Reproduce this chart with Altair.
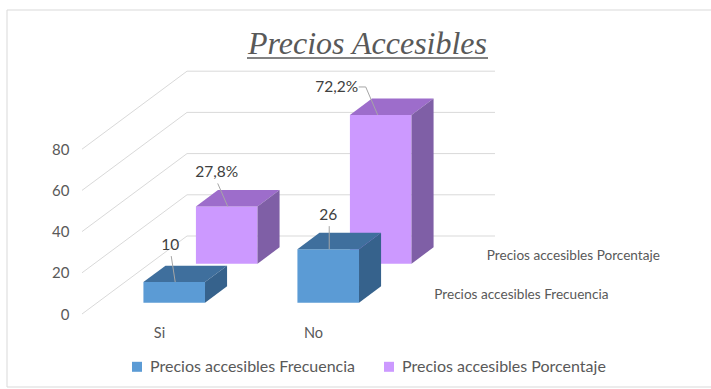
import json
import altair as alt
import pandas as pd

# ---------------- data ----------------
categories = ["Si", "No"]
series = ["Precios accesibles Frecuencia", "Precios accesibles Porcentaje"]
frecuencia = [10, 26]
porcentaje = [27.8, 72.2]
y_ticks = [0, 20, 40, 60, 80]
title_text = "Precios Accesibles"

values = {series[0]: frecuencia, series[1]: porcentaje}

# ---------------- layout / style constants ----------------
PX_U = 154.0            # px per category unit
PX_V = 2.06             # px per value unit
DEPTH_DX = 105 / PX_U   # 3D depth shift (x, category units) at back wall
DEPTH_DY = 78 / PX_V    # 3D depth shift (y, value units) at back wall
HALF_W = 0.2
ROW_DEPTH = {series[0]: (0.145, 0.355), series[1]: (0.645, 0.855)}
X_MIN, X_MAX = -0.5, 3.5
Y_MIN, Y_MAX = 0, 120
PLOT_W = (X_MAX - X_MIN) * PX_U
PLOT_H = (Y_MAX - Y_MIN) * PX_V
PAD_L = 82
PAD_T = 314 - PLOT_H
PAD_R = 711 - PAD_L - PLOT_W
PAD_B = 389 - 314

FRONT = {series[0]: "#5B9BD5", series[1]: "#CC99FF"}
TOP = {series[0]: "#3F6F9D", series[1]: "#9D6DCB"}
SIDE = {series[0]: "#36628C", series[1]: "#7F5FA6"}
GRID = "#D9D9D9"
TXT = "#595959"
FONT = "Lato"

# manual label nudges (px) as in the original Excel chart
LABEL_NUDGE = {(0, 0): (-4, -37), (1, 0): (-10, -34), (0, 1): (0, -34), (1, 1): (-44, -28)}


def proj(u, v, d):
    return u + DEPTH_DX * d, v + DEPTH_DY * d


def fmt(s, v):
    if s == series[1]:
        return f"{v:.1f}".replace(".", ",") + "%"
    return f"{v:g}"


# ---------------- build geometry tables ----------------
front_rows, face_rows, label_rows, leader_rows = [], [], [], []
for si, s in enumerate(series):
    d0, d1 = ROW_DEPTH[s]
    for ci, cat in enumerate(categories):
        h = values[s][ci]
        xa, yb0 = proj(ci - HALF_W, 0, d0)
        xc, yt0 = proj(ci + HALF_W, h, d0)
        xb, yt1 = proj(ci - HALF_W, h, d1)
        xd, yb1 = proj(ci + HALF_W, 0, d1)
        front_rows.append(dict(serie=s, cat=cat, x=xa, x2=xc, y=yb0, y2=yt0))
        fid = f"{si}-{ci}"
        # top face (parallelogram as area between two piecewise lines)
        for x, y, y2 in [(xa, yt0, yt0), (xb, yt0, yt1), (xc, yt0, yt1), (xd, yt1, yt1)]:
            face_rows.append(dict(serie=s, face=fid + "-top", x=x, y=y, y2=y2, fill=TOP[s]))
        # side face
        for x, y, y2 in [(xc, yb0, yt0), (xd, yb1, yt1)]:
            face_rows.append(dict(serie=s, face=fid + "-side", x=x, y=y, y2=y2, fill=SIDE[s]))
        # data label + leader line
        ax, ay = proj(ci, h, d0)
        ndx, ndy = LABEL_NUDGE[(si, ci)]
        lx, ly = ax + ndx / PX_U, ay - ndy / PX_V
        label_rows.append(dict(x=lx, y=ly, text=fmt(s, h)))
        if abs(ndx) > 25:
            pts = [(lx + 22 / PX_U, ly), (lx + 29 / PX_U, ly), (ax - 3 / PX_U, ay)]
        else:
            pts = [(lx + 1 / PX_U, ly - 11 / PX_V), (ax + 1 / PX_U, ay)]
        for k, (px, py) in enumerate(pts):
            leader_rows.append(dict(lid=fid, ord=k, x=px, y=py))

grid_rows = []
for v in y_ticks:
    pts = [proj(X_MIN, v, 0), proj(X_MIN, v, 1), proj(1.5, v, 1)]
    for k, (px, py) in enumerate(pts):
        grid_rows.append(dict(gid=v, ord=k, x=px, y=py))

depth_rows = []
for s in series:
    d0, d1 = ROW_DEPTH[s]
    px, py = proj(1.5, 0, (d0 + d1) / 2)
    depth_rows.append(dict(x=px + 18 / PX_U, y=py, text=s))

front_df = pd.DataFrame(front_rows)
face_df = pd.DataFrame(face_rows)
label_df = pd.DataFrame(label_rows)
leader_df = pd.DataFrame(leader_rows)
grid_df = pd.DataFrame(grid_rows)
depth_df = pd.DataFrame(depth_rows)

# ---------------- scales & axes ----------------
xs = alt.Scale(domain=[X_MIN, X_MAX], nice=False, zero=False)
ys = alt.Scale(domain=[Y_MIN, Y_MAX], nice=False, zero=False)
x_axis = alt.Axis(values=[0, 1], labelExpr=f"{json.dumps(categories)}[datum.value]",
                  grid=False, domain=False, ticks=False, title=None, labelPadding=12,
                  labelFont=FONT, labelFontSize=14.5, labelColor=TXT)
y_axis = alt.Axis(values=y_ticks, grid=False, domain=False, ticks=False, title=None,
                  labelPadding=13, labelFont=FONT, labelFontSize=15, labelColor=TXT)


def X(f):
    return alt.X(f, scale=xs, axis=x_axis, title=None)


def Y(f):
    return alt.Y(f, scale=ys, axis=y_axis, title=None, stack=None)


color = alt.Color("serie:N", scale=alt.Scale(domain=series, range=[FRONT[s] for s in series]),
                  legend=alt.Legend(title=None, orient="none", legendX=47, legendY=292,
                                    direction="horizontal", symbolType="square", symbolSize=100,
                                    symbolStrokeWidth=0, labelFont=FONT, labelFontSize=16,
                                    labelColor=TXT, columnPadding=25, padding=0, labelOffset=5,
                                    labelLimit=400))

one = alt.Data(values=[{"k": 1}])

border = alt.Chart(one).mark_rect(fillOpacity=0, stroke=GRID, strokeWidth=1).encode(
    x=alt.value(7 - PAD_L), x2=alt.value(720 - PAD_L),
    y=alt.value(10 - PAD_T), y2=alt.value(387 - PAD_T))

underline = alt.Chart(one).mark_rule(color=TXT, strokeWidth=1.5).encode(
    x=alt.value(247 - PAD_L), x2=alt.value(488 - PAD_L), y=alt.value(58 - PAD_T))

grid = alt.Chart(grid_df).mark_line(color=GRID, strokeWidth=1).encode(
    x=X("x:Q"), y=Y("y:Q"), detail="gid:N", order="ord:Q")

layers = [border, underline, grid]
for s in reversed(series):  # back row first
    layers.append(alt.Chart(front_df).transform_filter(alt.datum.serie == s).mark_rect().encode(
        x=X("x:Q"), x2="x2:Q", y=Y("y:Q"), y2="y2:Q", color=color))
    layers.append(alt.Chart(face_df).transform_filter(alt.datum.serie == s).mark_area().encode(
        x=X("x:Q"), y=Y("y:Q"), y2="y2:Q", detail="face:N",
        fill=alt.Fill("fill:N", scale=None)))

leaders = alt.Chart(leader_df).mark_line(color="#A6A6A6", strokeWidth=1).encode(
    x=X("x:Q"), y=Y("y:Q"), detail="lid:N", order="ord:Q")
labels = alt.Chart(label_df).mark_text(font=FONT, fontSize=15.5, color="#404040",
                                       baseline="middle").encode(
    x=X("x:Q"), y=Y("y:Q"), text="text:N")
depth_labels = alt.Chart(depth_df).mark_text(font=FONT, fontSize=13.6, color=TXT, align="left",
                                             baseline="middle").encode(
    x=X("x:Q"), y=Y("y:Q"), text="text:N")

layers += [leaders, labels, depth_labels]

chart = alt.layer(*layers).properties(
    width=PLOT_W, height=PLOT_H,
    padding={"left": PAD_L, "top": PAD_T, "right": PAD_R, "bottom": PAD_B},
    autosize=alt.AutoSizeParams(type="none"),
    background="white",
    title=alt.TitleParams(text=title_text, font="Liberation Serif", fontStyle="italic",
                          fontWeight="normal", fontSize=32, color=TXT, anchor="middle",
                          offset=0, dx=-22.5, dy=76.5, baseline="alphabetic"),
).configure_view(stroke=None)

chart.save("out.html", embed_options={"renderer": "svg", "actions": False})
